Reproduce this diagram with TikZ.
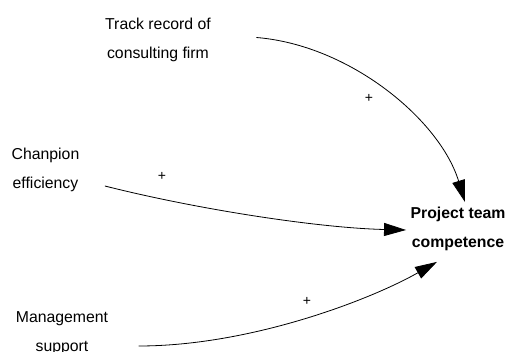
\documentclass[tikz,border=0pt]{standalone}
\usepackage{fontspec}
\setmainfont{Liberation Sans}
\usetikzlibrary{arrows.meta}
\begin{document}
\begin{tikzpicture}[
x=1pt, y=-1pt,
var/.style = {align=center, font=\fontsize{15.8}{29}\selectfont},
sign/.style = {font=\fontsize{14}{16}\selectfont, inner sep=0pt},
link/.style = {-{Triangle[length=22pt,width=13pt]}, line width=0.8pt},
]
\useasboundingbox (0,0) rectangle (506,352);
\node [var] (track) at (158,39.5) {Track record of\\consulting firm};
\node [var] (champ) at (45.5,169.5) {Chanpion\\efficiency};
\node [var] (mgmt) at (62,333) {Management\\support};
\node [var, font=\fontsize{15.8}{29}\selectfont\bfseries] (ptc) at (458,228.5) {Project team\\competence};
\node [sign] (s1) at (369,98) {+};
\node [sign] (s2) at (162,176) {+};
\node [sign] (s3) at (307,301) {+};
\draw[link] ([xshift=42pt,yshift=2pt]track.east) .. controls (350,45) and (440,120) .. ([xshift=7pt,yshift=1pt]ptc.north);
\draw[link] ([xshift=22pt,yshift=-16.5pt]champ.east) .. controls (200,210) and (320,228) .. ([xshift=-1pt,yshift=-1.5pt]ptc.west);
\draw[link] ([xshift=27pt,yshift=-13pt]mgmt.east) .. controls (250,346) and (370,300) .. ([xshift=-21pt,yshift=-8pt]ptc.south);

\end{tikzpicture}
\end{document}
